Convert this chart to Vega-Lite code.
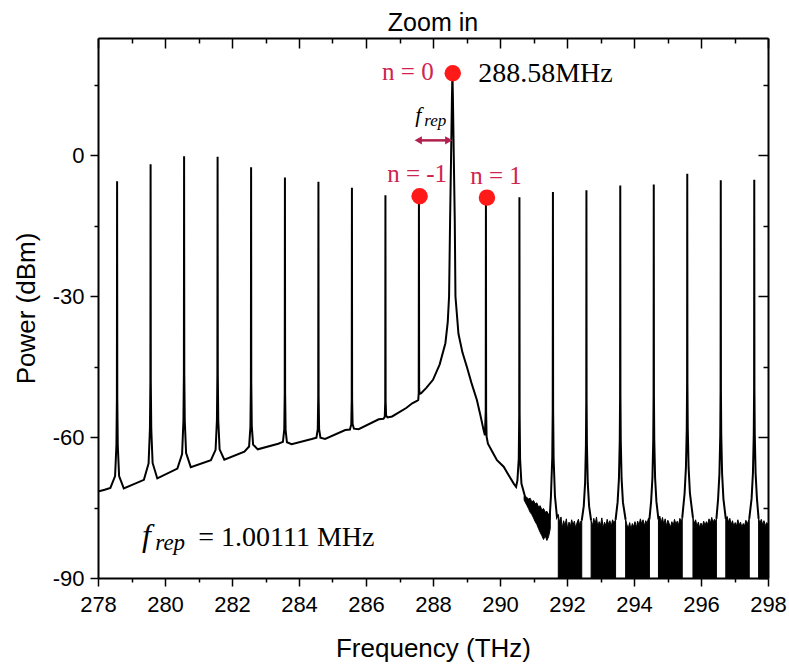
{
  "$schema": "https://vega.github.io/schema/vega-lite/v6.json",
  "width": 670,
  "height": 540,
  "autosize": "none",
  "padding": {"left": 98, "top": 38, "right": 21, "bottom": 87},
  "background": "white",
  "title": {"text": "Zoom in", "font": "Liberation Sans", "fontSize": 25, "fontWeight": "normal", "color": "black", "baseline": "alphabetic", "offset": -19},
  "config": {
    "view": {"stroke": null},
    "axis": {"domainColor": "black", "domainWidth": 2, "tickColor": "black", "tickWidth": 1.5, "grid": false,
      "labelFont": "Liberation Sans", "labelFontSize": 22, "labelColor": "black",
      "titleFont": "Liberation Sans", "titleFontSize": 26, "titleFontWeight": "normal", "titleColor": "black"}
  },
  "datasets": {
    "spec": [
      {"f": 278.0, "p": -71.6, "seg": "a"}, {"f": 278.2, "p": -71.2, "seg": "a"}, {"f": 278.37, "p": -70.8, "seg": "a"},
      {"f": 278.51, "p": -68.3, "seg": "a"}, {"f": 278.55, "p": -61.7, "seg": "a"}, {"f": 278.564, "p": -51.7, "seg": "a"},
      {"f": 278.57, "p": -5.5, "seg": "a"}, {"f": 278.576, "p": -51.7, "seg": "a"}, {"f": 278.59, "p": -61.7, "seg": "a"},
      {"f": 278.63, "p": -68.3, "seg": "a"}, {"f": 278.77, "p": -70.9, "seg": "a"},
      {"f": 279.37, "p": -69.1, "seg": "a"}, {"f": 279.51, "p": -65.6, "seg": "a"}, {"f": 279.55, "p": -58.3, "seg": "a"},
      {"f": 279.564, "p": -48.2, "seg": "a"}, {"f": 279.57, "p": -1.9, "seg": "a"}, {"f": 279.576, "p": -48.2, "seg": "a"},
      {"f": 279.59, "p": -58.3, "seg": "a"}, {"f": 279.63, "p": -65.5, "seg": "a"}, {"f": 279.77, "p": -68.8, "seg": "a"},
      {"f": 280.37, "p": -66.7, "seg": "a"}, {"f": 280.51, "p": -63.6, "seg": "a"}, {"f": 280.55, "p": -56.6, "seg": "a"},
      {"f": 280.564, "p": -46.5, "seg": "a"}, {"f": 280.57, "p": -0.2, "seg": "a"}, {"f": 280.576, "p": -46.5, "seg": "a"},
      {"f": 280.59, "p": -56.5, "seg": "a"}, {"f": 280.63, "p": -63.4, "seg": "a"}, {"f": 280.77, "p": -66.4, "seg": "a"},
      {"f": 281.37, "p": -64.9, "seg": "a"}, {"f": 281.51, "p": -62.7, "seg": "a"}, {"f": 281.55, "p": -56.4, "seg": "a"},
      {"f": 281.564, "p": -46.5, "seg": "a"}, {"f": 281.57, "p": -0.3, "seg": "a"}, {"f": 281.576, "p": -46.5, "seg": "a"},
      {"f": 281.59, "p": -56.4, "seg": "a"}, {"f": 281.63, "p": -62.6, "seg": "a"}, {"f": 281.77, "p": -64.8, "seg": "a"},
      {"f": 282.37, "p": -63.1, "seg": "a"}, {"f": 282.51, "p": -62.0, "seg": "a"}, {"f": 282.55, "p": -57.8, "seg": "a"},
      {"f": 282.564, "p": -48.6, "seg": "a"}, {"f": 282.57, "p": -2.5, "seg": "a"}, {"f": 282.576, "p": -48.6, "seg": "a"},
      {"f": 282.59, "p": -57.6, "seg": "a"}, {"f": 282.63, "p": -61.6, "seg": "a"}, {"f": 282.77, "p": -62.6, "seg": "a"},
      {"f": 283.38, "p": -61.4, "seg": "a"}, {"f": 283.52, "p": -61.0, "seg": "a"}, {"f": 283.56, "p": -58.4, "seg": "a"},
      {"f": 283.574, "p": -50.6, "seg": "a"}, {"f": 283.58, "p": -4.7, "seg": "a"}, {"f": 283.586, "p": -50.6, "seg": "a"},
      {"f": 283.6, "p": -58.5, "seg": "a"}, {"f": 283.64, "p": -61.1, "seg": "a"}, {"f": 283.78, "p": -61.5, "seg": "a"},
      {"f": 284.38, "p": -60.4, "seg": "a"}, {"f": 284.52, "p": -60.1, "seg": "a"}, {"f": 284.56, "p": -58.3, "seg": "a"},
      {"f": 284.574, "p": -51.3, "seg": "a"}, {"f": 284.58, "p": -5.6, "seg": "a"}, {"f": 284.586, "p": -51.3, "seg": "a"},
      {"f": 284.6, "p": -58.3, "seg": "a"}, {"f": 284.64, "p": -60.1, "seg": "a"}, {"f": 284.78, "p": -60.4, "seg": "a"},
      {"f": 285.38, "p": -58.5, "seg": "a"}, {"f": 285.52, "p": -58.4, "seg": "a"}, {"f": 285.56, "p": -57.3, "seg": "a"},
      {"f": 285.574, "p": -52.0, "seg": "a"}, {"f": 285.58, "p": -6.9, "seg": "a"}, {"f": 285.586, "p": -52.0, "seg": "a"},
      {"f": 285.6, "p": -57.2, "seg": "a"}, {"f": 285.64, "p": -58.2, "seg": "a"}, {"f": 285.78, "p": -58.3, "seg": "a"},
      {"f": 286.38, "p": -56.2, "seg": "a"}, {"f": 286.52, "p": -56.1, "seg": "a"}, {"f": 286.56, "p": -55.7, "seg": "a"},
      {"f": 286.574, "p": -52.5, "seg": "a"}, {"f": 286.58, "p": -8.5, "seg": "a"}, {"f": 286.586, "p": -52.3, "seg": "a"},
      {"f": 286.6, "p": -55.4, "seg": "a"}, {"f": 286.64, "p": -55.8, "seg": "a"}, {"f": 286.78, "p": -55.6, "seg": "a"},
      {"f": 287.2, "p": -53.8, "seg": "a"}, {"f": 287.38, "p": -52.8, "seg": "a"}, {"f": 287.52, "p": -52.3, "seg": "a"},
      {"f": 287.56, "p": -52.1, "seg": "a"}, {"f": 287.574, "p": -50.5, "seg": "a"}, {"f": 287.58, "p": -8.8, "seg": "a"},
      {"f": 287.586, "p": -49.5, "seg": "a"}, {"f": 287.6, "p": -50.8, "seg": "a"}, {"f": 287.64, "p": -50.7, "seg": "a"},
      {"f": 287.8, "p": -49.5, "seg": "a"}, {"f": 288.0, "p": -47.8, "seg": "a"}, {"f": 288.2, "p": -44.5, "seg": "a"},
      {"f": 288.37, "p": -40.0, "seg": "a"}, {"f": 288.44, "p": -35.5, "seg": "a"}, {"f": 288.48, "p": -30.0, "seg": "a"},
      {"f": 288.51, "p": -14.0, "seg": "a"}, {"f": 288.54, "p": 0.0, "seg": "a"}, {"f": 288.565, "p": 12.0, "seg": "a"},
      {"f": 288.58, "p": 17.5, "seg": "a"}, {"f": 288.595, "p": 12.0, "seg": "a"}, {"f": 288.62, "p": 0.0, "seg": "a"},
      {"f": 288.65, "p": -14.0, "seg": "a"}, {"f": 288.67, "p": -30.0, "seg": "a"}, {"f": 288.76, "p": -38.0, "seg": "a"},
      {"f": 288.88, "p": -42.0, "seg": "a"}, {"f": 289.01, "p": -45.0, "seg": "a"}, {"f": 289.15, "p": -48.5, "seg": "a"},
      {"f": 289.31, "p": -52.1, "seg": "a"}, {"f": 289.42, "p": -55.5, "seg": "a"}, {"f": 289.51, "p": -58.5, "seg": "a"},
      {"f": 289.55, "p": -59.6, "seg": "a"}, {"f": 289.574, "p": -54.4, "seg": "a"}, {"f": 289.58, "p": -9.6, "seg": "a"},
      {"f": 289.586, "p": -54.7, "seg": "a"}, {"f": 289.6, "p": -59.9, "seg": "a"}, {"f": 289.64, "p": -61.4, "seg": "a"},
      {"f": 289.8, "p": -63.5, "seg": "a"}, {"f": 289.91, "p": -64.9, "seg": "a"}, {"f": 290.11, "p": -66.3, "seg": "a"},
      {"f": 290.25, "p": -68.0, "seg": "a"}, {"f": 290.41, "p": -69.9, "seg": "a"}, {"f": 290.48, "p": -70.6, "seg": "a"},
      {"f": 290.52, "p": -69.2, "seg": "a"}, {"f": 290.56, "p": -64.6, "seg": "a"}, {"f": 290.574, "p": -55.1, "seg": "a"},
      {"f": 290.58, "p": -8.9, "seg": "a"}, {"f": 290.586, "p": -55.1, "seg": "a"}, {"f": 290.6, "p": -64.7, "seg": "a"},
      {"f": 290.64, "p": -69.9, "seg": "a"}, {"f": 290.76, "p": -73.0, "seg": "a"}, {"f": 290.9, "p": -74.3, "seg": "a"},
      {"f": 291.0, "p": -75.3, "seg": "a"}, {"f": 291.1, "p": -75.8, "seg": "a"}, {"f": 291.2, "p": -77.0, "seg": "a"},
      {"f": 291.3, "p": -77.6, "seg": "a"}, {"f": 291.4, "p": -78.2, "seg": "a"}, {"f": 291.48, "p": -77.5, "seg": "a"},
      {"f": 291.52, "p": -72.7, "seg": "a"}, {"f": 291.56, "p": -64.4, "seg": "a"}, {"f": 291.574, "p": -54.1, "seg": "a"},
      {"f": 291.58, "p": -7.8, "seg": "a"}, {"f": 291.586, "p": -54.1, "seg": "a"}, {"f": 291.6, "p": -64.4, "seg": "a"},
      {"f": 291.64, "p": -72.5, "seg": "a"}, {"f": 291.7, "p": -77.0, "seg": "a"}, {"f": 291.74, "p": -76.5, "seg": "a"},

      {"f": 292.44, "p": -77.8, "seg": "p4"}, {"f": 292.5, "p": -74.7, "seg": "p4"}, {"f": 292.54, "p": -69.8, "seg": "p4"},
      {"f": 292.565, "p": -61.7, "seg": "p4"}, {"f": 292.575, "p": -52.1, "seg": "p4"}, {"f": 292.58, "p": -7.4, "seg": "p4"},
      {"f": 292.585, "p": -52.1, "seg": "p4"}, {"f": 292.595, "p": -61.7, "seg": "p4"}, {"f": 292.62, "p": -69.8, "seg": "p4"},
      {"f": 292.66, "p": -74.7, "seg": "p4"}, {"f": 292.72, "p": -77.8, "seg": "p4"},

      {"f": 293.45, "p": -77.6, "seg": "p5"}, {"f": 293.51, "p": -73.9, "seg": "p5"}, {"f": 293.55, "p": -68.9, "seg": "p5"},
      {"f": 293.575, "p": -60.7, "seg": "p5"}, {"f": 293.585, "p": -51.1, "seg": "p5"}, {"f": 293.59, "p": -6.4, "seg": "p5"},
      {"f": 293.595, "p": -51.1, "seg": "p5"}, {"f": 293.605, "p": -60.7, "seg": "p5"}, {"f": 293.63, "p": -68.9, "seg": "p5"},
      {"f": 293.67, "p": -73.9, "seg": "p5"}, {"f": 293.75, "p": -77.6, "seg": "p5"},

      {"f": 294.46, "p": -77.5, "seg": "p6"}, {"f": 294.51, "p": -73.8, "seg": "p6"}, {"f": 294.55, "p": -68.7, "seg": "p6"},
      {"f": 294.575, "p": -60.5, "seg": "p6"}, {"f": 294.585, "p": -50.9, "seg": "p6"}, {"f": 294.59, "p": -6.2, "seg": "p6"},
      {"f": 294.595, "p": -50.9, "seg": "p6"}, {"f": 294.605, "p": -60.5, "seg": "p6"}, {"f": 294.63, "p": -68.7, "seg": "p6"},
      {"f": 294.67, "p": -73.8, "seg": "p6"}, {"f": 294.73, "p": -77.5, "seg": "p6"},

      {"f": 295.44, "p": -77.2, "seg": "p7"}, {"f": 295.51, "p": -72.0, "seg": "p7"}, {"f": 295.55, "p": -66.5, "seg": "p7"},
      {"f": 295.575, "p": -58.2, "seg": "p7"}, {"f": 295.585, "p": -48.6, "seg": "p7"}, {"f": 295.59, "p": -3.9, "seg": "p7"},
      {"f": 295.595, "p": -48.6, "seg": "p7"}, {"f": 295.605, "p": -58.2, "seg": "p7"}, {"f": 295.63, "p": -66.5, "seg": "p7"},
      {"f": 295.67, "p": -72.0, "seg": "p7"}, {"f": 295.76, "p": -77.2, "seg": "p7"},

      {"f": 296.46, "p": -77.4, "seg": "p8"}, {"f": 296.51, "p": -73.2, "seg": "p8"}, {"f": 296.55, "p": -67.8, "seg": "p8"},
      {"f": 296.575, "p": -59.6, "seg": "p8"}, {"f": 296.585, "p": -50.0, "seg": "p8"}, {"f": 296.59, "p": -5.3, "seg": "p8"},
      {"f": 296.595, "p": -50.0, "seg": "p8"}, {"f": 296.605, "p": -59.6, "seg": "p8"}, {"f": 296.63, "p": -67.8, "seg": "p8"},
      {"f": 296.67, "p": -73.2, "seg": "p8"}, {"f": 296.74, "p": -77.4, "seg": "p8"},

      {"f": 297.44, "p": -77.4, "seg": "p9"}, {"f": 297.51, "p": -73.1, "seg": "p9"}, {"f": 297.55, "p": -67.7, "seg": "p9"},
      {"f": 297.575, "p": -59.5, "seg": "p9"}, {"f": 297.585, "p": -49.9, "seg": "p9"}, {"f": 297.59, "p": -5.2, "seg": "p9"},
      {"f": 297.595, "p": -49.9, "seg": "p9"}, {"f": 297.605, "p": -59.5, "seg": "p9"}, {"f": 297.63, "p": -67.7, "seg": "p9"},
      {"f": 297.67, "p": -73.1, "seg": "p9"}, {"f": 297.72, "p": -77.4, "seg": "p9"}
    ],
    "noise": [
      {"f": 290.72, "top": -72.6, "bot": -73.4, "blk": "nb"}, {"f": 290.8, "top": -72.8, "bot": -74.5, "blk": "nb"},
      {"f": 290.85, "top": -73.2, "bot": -75.2, "blk": "nb"}, {"f": 290.9, "top": -73.0, "bot": -76.0, "blk": "nb"},
      {"f": 290.95, "top": -73.8, "bot": -76.5, "blk": "nb"}, {"f": 291.0, "top": -73.5, "bot": -77.2, "blk": "nb"},
      {"f": 291.05, "top": -74.2, "bot": -78.0, "blk": "nb"}, {"f": 291.1, "top": -74.0, "bot": -78.6, "blk": "nb"},
      {"f": 291.15, "top": -74.9, "bot": -79.5, "blk": "nb"}, {"f": 291.2, "top": -74.6, "bot": -80.3, "blk": "nb"},
      {"f": 291.25, "top": -75.5, "bot": -81.0, "blk": "nb"}, {"f": 291.3, "top": -75.2, "bot": -81.8, "blk": "nb"},
      {"f": 291.35, "top": -76.0, "bot": -81.0, "blk": "nb"}, {"f": 291.4, "top": -75.8, "bot": -82.0, "blk": "nb"},
      {"f": 291.45, "top": -76.5, "bot": -81.2, "blk": "nb"}, {"f": 291.5, "top": -76.0, "bot": -79.5, "blk": "nb"},

      {"f": 291.74, "top": -76.5, "bot": -90, "blk": "b0"}, {"f": 291.78, "top": -78.2, "bot": -90, "blk": "b0"},
      {"f": 291.82, "top": -77.0, "bot": -90, "blk": "b0"}, {"f": 291.86, "top": -79.3, "bot": -90, "blk": "b0"},
      {"f": 291.9, "top": -77.8, "bot": -90, "blk": "b0"}, {"f": 291.94, "top": -78.9, "bot": -90, "blk": "b0"},
      {"f": 291.98, "top": -77.4, "bot": -90, "blk": "b0"}, {"f": 292.02, "top": -79.6, "bot": -90, "blk": "b0"},
      {"f": 292.06, "top": -78.1, "bot": -90, "blk": "b0"}, {"f": 292.1, "top": -79.0, "bot": -90, "blk": "b0"},
      {"f": 292.14, "top": -77.6, "bot": -90, "blk": "b0"}, {"f": 292.18, "top": -78.7, "bot": -90, "blk": "b0"},
      {"f": 292.22, "top": -77.9, "bot": -90, "blk": "b0"}, {"f": 292.26, "top": -79.4, "bot": -90, "blk": "b0"},
      {"f": 292.3, "top": -78.2, "bot": -90, "blk": "b0"}, {"f": 292.34, "top": -77.5, "bot": -90, "blk": "b0"},
      {"f": 292.38, "top": -78.8, "bot": -90, "blk": "b0"}, {"f": 292.41, "top": -77.9, "bot": -90, "blk": "b0"},
      {"f": 292.44, "top": -77.8, "bot": -90, "blk": "b0"},

      {"f": 292.72, "top": -77.8, "bot": -90, "blk": "b1"}, {"f": 292.76, "top": -78.9, "bot": -90, "blk": "b1"},
      {"f": 292.8, "top": -77.3, "bot": -90, "blk": "b1"}, {"f": 292.84, "top": -78.5, "bot": -90, "blk": "b1"},
      {"f": 292.88, "top": -77.0, "bot": -90, "blk": "b1"}, {"f": 292.92, "top": -79.1, "bot": -90, "blk": "b1"},
      {"f": 292.96, "top": -78.0, "bot": -90, "blk": "b1"}, {"f": 293.0, "top": -78.8, "bot": -90, "blk": "b1"},
      {"f": 293.04, "top": -77.2, "bot": -90, "blk": "b1"}, {"f": 293.08, "top": -79.3, "bot": -90, "blk": "b1"},
      {"f": 293.12, "top": -78.1, "bot": -90, "blk": "b1"}, {"f": 293.16, "top": -78.9, "bot": -90, "blk": "b1"},
      {"f": 293.2, "top": -77.5, "bot": -90, "blk": "b1"}, {"f": 293.24, "top": -78.6, "bot": -90, "blk": "b1"},
      {"f": 293.28, "top": -77.8, "bot": -90, "blk": "b1"}, {"f": 293.32, "top": -79.0, "bot": -90, "blk": "b1"},
      {"f": 293.36, "top": -77.6, "bot": -90, "blk": "b1"}, {"f": 293.4, "top": -78.3, "bot": -90, "blk": "b1"},
      {"f": 293.45, "top": -77.6, "bot": -90, "blk": "b1"},

      {"f": 293.75, "top": -77.6, "bot": -90, "blk": "b2"}, {"f": 293.79, "top": -78.7, "bot": -90, "blk": "b2"},
      {"f": 293.83, "top": -79.4, "bot": -90, "blk": "b2"}, {"f": 293.87, "top": -78.2, "bot": -90, "blk": "b2"},
      {"f": 293.91, "top": -79.6, "bot": -90, "blk": "b2"}, {"f": 293.95, "top": -78.4, "bot": -90, "blk": "b2"},
      {"f": 293.99, "top": -79.1, "bot": -90, "blk": "b2"}, {"f": 294.03, "top": -78.0, "bot": -90, "blk": "b2"},
      {"f": 294.07, "top": -79.3, "bot": -90, "blk": "b2"}, {"f": 294.11, "top": -77.9, "bot": -90, "blk": "b2"},
      {"f": 294.15, "top": -78.8, "bot": -90, "blk": "b2"}, {"f": 294.19, "top": -77.4, "bot": -90, "blk": "b2"},
      {"f": 294.23, "top": -78.5, "bot": -90, "blk": "b2"}, {"f": 294.27, "top": -77.6, "bot": -90, "blk": "b2"},
      {"f": 294.31, "top": -78.9, "bot": -90, "blk": "b2"}, {"f": 294.35, "top": -77.8, "bot": -90, "blk": "b2"},
      {"f": 294.39, "top": -78.4, "bot": -90, "blk": "b2"}, {"f": 294.43, "top": -77.3, "bot": -90, "blk": "b2"},
      {"f": 294.46, "top": -77.5, "bot": -90, "blk": "b2"},

      {"f": 294.73, "top": -77.5, "bot": -90, "blk": "b3"}, {"f": 294.77, "top": -76.8, "bot": -90, "blk": "b3"},
      {"f": 294.81, "top": -78.3, "bot": -90, "blk": "b3"}, {"f": 294.85, "top": -77.1, "bot": -90, "blk": "b3"},
      {"f": 294.89, "top": -78.6, "bot": -90, "blk": "b3"}, {"f": 294.93, "top": -77.4, "bot": -90, "blk": "b3"},
      {"f": 294.97, "top": -78.9, "bot": -90, "blk": "b3"}, {"f": 295.01, "top": -77.7, "bot": -90, "blk": "b3"},
      {"f": 295.05, "top": -78.4, "bot": -90, "blk": "b3"}, {"f": 295.09, "top": -79.2, "bot": -90, "blk": "b3"},
      {"f": 295.13, "top": -78.0, "bot": -90, "blk": "b3"}, {"f": 295.17, "top": -78.8, "bot": -90, "blk": "b3"},
      {"f": 295.21, "top": -77.5, "bot": -90, "blk": "b3"}, {"f": 295.25, "top": -78.6, "bot": -90, "blk": "b3"},
      {"f": 295.29, "top": -77.9, "bot": -90, "blk": "b3"}, {"f": 295.33, "top": -78.7, "bot": -90, "blk": "b3"},
      {"f": 295.37, "top": -77.3, "bot": -90, "blk": "b3"}, {"f": 295.41, "top": -78.1, "bot": -90, "blk": "b3"},
      {"f": 295.44, "top": -77.2, "bot": -90, "blk": "b3"},

      {"f": 295.76, "top": -77.2, "bot": -90, "blk": "b4"}, {"f": 295.8, "top": -78.4, "bot": -90, "blk": "b4"},
      {"f": 295.84, "top": -77.6, "bot": -90, "blk": "b4"}, {"f": 295.88, "top": -79.0, "bot": -90, "blk": "b4"},
      {"f": 295.92, "top": -78.1, "bot": -90, "blk": "b4"}, {"f": 295.96, "top": -79.3, "bot": -90, "blk": "b4"},
      {"f": 296.0, "top": -78.3, "bot": -90, "blk": "b4"}, {"f": 296.04, "top": -79.1, "bot": -90, "blk": "b4"},
      {"f": 296.08, "top": -77.9, "bot": -90, "blk": "b4"}, {"f": 296.12, "top": -78.8, "bot": -90, "blk": "b4"},
      {"f": 296.16, "top": -78.0, "bot": -90, "blk": "b4"}, {"f": 296.2, "top": -78.6, "bot": -90, "blk": "b4"},
      {"f": 296.24, "top": -77.4, "bot": -90, "blk": "b4"}, {"f": 296.28, "top": -78.3, "bot": -90, "blk": "b4"},
      {"f": 296.32, "top": -77.1, "bot": -90, "blk": "b4"}, {"f": 296.36, "top": -78.2, "bot": -90, "blk": "b4"},
      {"f": 296.4, "top": -77.5, "bot": -90, "blk": "b4"}, {"f": 296.43, "top": -78.0, "bot": -90, "blk": "b4"},
      {"f": 296.46, "top": -77.4, "bot": -90, "blk": "b4"},

      {"f": 296.74, "top": -77.4, "bot": -90, "blk": "b5"}, {"f": 296.78, "top": -76.9, "bot": -90, "blk": "b5"},
      {"f": 296.82, "top": -78.1, "bot": -90, "blk": "b5"}, {"f": 296.86, "top": -77.3, "bot": -90, "blk": "b5"},
      {"f": 296.9, "top": -78.6, "bot": -90, "blk": "b5"}, {"f": 296.94, "top": -77.8, "bot": -90, "blk": "b5"},
      {"f": 296.98, "top": -79.0, "bot": -90, "blk": "b5"}, {"f": 297.02, "top": -78.2, "bot": -90, "blk": "b5"},
      {"f": 297.06, "top": -78.9, "bot": -90, "blk": "b5"}, {"f": 297.1, "top": -77.6, "bot": -90, "blk": "b5"},
      {"f": 297.14, "top": -78.7, "bot": -90, "blk": "b5"}, {"f": 297.18, "top": -78.1, "bot": -90, "blk": "b5"},
      {"f": 297.22, "top": -79.2, "bot": -90, "blk": "b5"}, {"f": 297.26, "top": -78.4, "bot": -90, "blk": "b5"},
      {"f": 297.3, "top": -78.9, "bot": -90, "blk": "b5"}, {"f": 297.34, "top": -77.7, "bot": -90, "blk": "b5"},
      {"f": 297.38, "top": -78.5, "bot": -90, "blk": "b5"}, {"f": 297.41, "top": -77.9, "bot": -90, "blk": "b5"},
      {"f": 297.44, "top": -77.4, "bot": -90, "blk": "b5"},

      {"f": 297.72, "top": -77.4, "bot": -90, "blk": "b6"}, {"f": 297.76, "top": -78.3, "bot": -90, "blk": "b6"},
      {"f": 297.8, "top": -77.5, "bot": -90, "blk": "b6"}, {"f": 297.84, "top": -78.7, "bot": -90, "blk": "b6"},
      {"f": 297.88, "top": -77.8, "bot": -90, "blk": "b6"}, {"f": 297.92, "top": -78.9, "bot": -90, "blk": "b6"},
      {"f": 297.96, "top": -78.2, "bot": -90, "blk": "b6"}, {"f": 298.0, "top": -78.6, "bot": -90, "blk": "b6"}
    ]
  },
  "layer": [
    {
      "data": {"name": "noise"},
      "mark": {"type": "area", "color": "black", "stroke": "black", "strokeWidth": 1, "clip": true},
      "encoding": {
        "x": {"field": "f", "type": "quantitative", "scale": {"domain": [278, 298], "nice": false, "zero": false},
          "axis": {"orient": "top", "values": [278,279,280,281,282,283,284,285,286,287,288,289,290,291,292,293,294,295,296,297,298],
            "labels": false, "title": null,
            "tickSize": {"condition": {"test": "datum.value % 2 === 0", "value": -10}, "value": -5}}},
        "y": {"field": "top", "type": "quantitative", "scale": {"domain": [-90, 25], "nice": false, "zero": false},
          "axis": {"orient": "right", "values": [-90,-75,-60,-45,-30,-15,0,15], "labels": false, "title": null,
            "tickSize": {"condition": {"test": "datum.value % 30 === 0", "value": -10}, "value": -5}}},
        "y2": {"field": "bot"},
        "detail": {"field": "blk"}
      }
    },
    {
      "data": {"name": "spec"},
      "mark": {"type": "line", "color": "black", "strokeWidth": 2, "clip": true},
      "encoding": {
        "x": {"field": "f", "type": "quantitative",
          "axis": {"orient": "bottom", "values": [278,279,280,281,282,283,284,285,286,287,288,289,290,291,292,293,294,295,296,297,298],
            "labelExpr": "datum.value % 2 === 0 ? '' + datum.value : ''", "labelOverlap": false, "labelFlush": false,
            "labelPadding": 8, "title": "Frequency (THz)", "titlePadding": 20,
            "tickSize": {"condition": {"test": "datum.value % 2 === 0", "value": 8}, "value": 4}}},
        "y": {"field": "p", "type": "quantitative",
          "axis": {"orient": "left", "values": [-90,-75,-60,-45,-30,-15,0,15],
            "labelExpr": "datum.value % 30 === 0 ? '' + datum.value : ''", "labelOverlap": false, "labelFlush": false,
            "labelPadding": 6, "title": "Power (dBm)", "titlePadding": 13,
            "tickSize": {"condition": {"test": "datum.value % 30 === 0", "value": 8}, "value": 4}}},
        "detail": {"field": "seg"}
      }
    },
    {
      "data": {"values": [{"f": 288.59, "p": 17.5}, {"f": 287.6, "p": -8.7}, {"f": 289.61, "p": -9.0}]},
      "mark": {"type": "point", "filled": true, "color": "#ff1a1a", "opacity": 1, "size": 270},
      "encoding": {
        "x": {"field": "f", "type": "quantitative", "axis": null},
        "y": {"field": "p", "type": "quantitative", "axis": null}
      }
    },
    {
      "data": {"values": [{"f": 288.02, "p": 16.1, "t": "n = 0"}, {"f": 288.42, "p": -5.7, "t": "n = -1"}]},
      "mark": {"type": "text", "font": "Liberation Serif", "fontSize": 25, "color": "#cf2350", "align": "right", "baseline": "alphabetic"},
      "encoding": {
        "x": {"field": "f", "type": "quantitative", "axis": null},
        "y": {"field": "p", "type": "quantitative", "axis": null},
        "text": {"field": "t"}
      }
    },
    {
      "data": {"values": [{"f": 289.11, "p": -6.0, "t": "n = 1"}]},
      "mark": {"type": "text", "font": "Liberation Serif", "fontSize": 25, "color": "#cf2350", "align": "left", "baseline": "alphabetic"},
      "encoding": {
        "x": {"field": "f", "type": "quantitative", "axis": null},
        "y": {"field": "p", "type": "quantitative", "axis": null},
        "text": {"field": "t"}
      }
    },
    {
      "data": {"values": [{"f": 289.35, "p": 15.6, "t": "288.58MHz"}, {"f": 280.99, "p": -83.1, "t": "= 1.00111 MHz"}]},
      "mark": {"type": "text", "font": "Liberation Serif", "fontSize": 28, "color": "black", "align": "left", "baseline": "alphabetic"},
      "encoding": {
        "x": {"field": "f", "type": "quantitative", "axis": null},
        "y": {"field": "p", "type": "quantitative", "axis": null},
        "text": {"field": "t"}
      }
    },
    {
      "data": {"values": [{"f": 279.31, "p": -83.1, "t": "f"}]},
      "mark": {"type": "text", "font": "Liberation Serif", "fontSize": 32, "fontStyle": "italic", "color": "black", "align": "left", "baseline": "alphabetic"},
      "encoding": {
        "x": {"field": "f", "type": "quantitative", "axis": null},
        "y": {"field": "p", "type": "quantitative", "axis": null},
        "text": {"field": "t"}
      }
    },
    {
      "data": {"values": [{"f": 279.71, "p": -84.0, "t": "rep"}]},
      "mark": {"type": "text", "font": "Liberation Serif", "fontSize": 23, "fontStyle": "italic", "color": "black", "align": "left", "baseline": "alphabetic"},
      "encoding": {
        "x": {"field": "f", "type": "quantitative", "axis": null},
        "y": {"field": "p", "type": "quantitative", "axis": null},
        "text": {"field": "t"}
      }
    },
    {
      "data": {"values": [{"f": 287.47, "p": 7.1, "t": "f"}]},
      "mark": {"type": "text", "font": "Liberation Serif", "fontSize": 22, "fontStyle": "italic", "color": "black", "align": "left", "baseline": "alphabetic"},
      "encoding": {
        "x": {"field": "f", "type": "quantitative", "axis": null},
        "y": {"field": "p", "type": "quantitative", "axis": null},
        "text": {"field": "t"}
      }
    },
    {
      "data": {"values": [{"f": 287.74, "p": 6.3, "t": "rep"}]},
      "mark": {"type": "text", "font": "Liberation Serif", "fontSize": 17, "fontStyle": "italic", "color": "black", "align": "left", "baseline": "alphabetic"},
      "encoding": {
        "x": {"field": "f", "type": "quantitative", "axis": null},
        "y": {"field": "p", "type": "quantitative", "axis": null},
        "text": {"field": "t"}
      }
    },
    {
      "data": {"values": [{"f1": 287.56, "f2": 288.47, "p": 3.2}]},
      "mark": {"type": "rule", "color": "#b0214d", "strokeWidth": 2.5},
      "encoding": {
        "x": {"field": "f1", "type": "quantitative", "axis": null},
        "x2": {"field": "f2"},
        "y": {"field": "p", "type": "quantitative", "axis": null}
      }
    },
    {
      "data": {"values": [{"f": 287.56, "p": 3.2}]},
      "mark": {"type": "point", "shape": "triangle-left", "filled": true, "color": "#b0214d", "opacity": 1, "size": 70},
      "encoding": {
        "x": {"field": "f", "type": "quantitative", "axis": null},
        "y": {"field": "p", "type": "quantitative", "axis": null}
      }
    },
    {
      "data": {"values": [{"f": 288.47, "p": 3.2}]},
      "mark": {"type": "point", "shape": "triangle-right", "filled": true, "color": "#b0214d", "opacity": 1, "size": 70},
      "encoding": {
        "x": {"field": "f", "type": "quantitative", "axis": null},
        "y": {"field": "p", "type": "quantitative", "axis": null}
      }
    }
  ],
  "resolve": {"axis": {"x": "independent", "y": "independent"}}
}
